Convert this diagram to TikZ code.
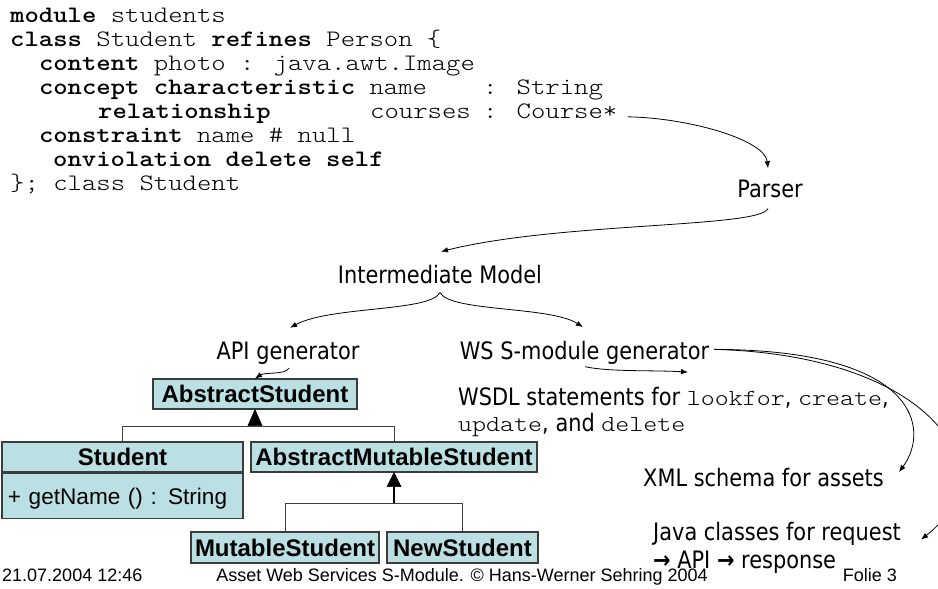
\documentclass[tikz,border=0pt]{standalone}
\usepackage{fontspec}
\setmainfont{Liberation Sans}
\newfontfamily\codefont{lmmonolt10-regular.otf}[BoldFont=lmmonolt10-bold.otf, FakeStretch=1.16]
\newfontfamily\arialfont{Liberation Sans}
\newfontfamily\labelfont{DejaVu Sans}[FakeStretch=0.87]
\usetikzlibrary{arrows.meta}
\definecolor{boxfill}{RGB}{187,224,228}
\definecolor{boxline}{RGB}{60,60,60}
\newcommand{\cw}[1]{{\codefont\fontsize{23}{24}\selectfont #1}}
\begin{document}
\begin{tikzpicture}[x=1pt,y=-1pt,
  code/.style={font=\codefont\fontsize{23.6}{24}\selectfont, inner sep=0pt, anchor=base west},
  lbl/.style={font=\labelfont\fontsize{24}{28}\selectfont, inner sep=0pt, anchor=base},
  cls/.style={draw=boxline, fill=boxfill, line width=1.1pt, font=\arialfont\bfseries\fontsize{24}{24}\selectfont, inner sep=0pt, minimum height=30pt, text height=17pt, text depth=0pt},
  foot/.style={font=\arialfont\fontsize{18}{18}\selectfont, inner sep=0pt, anchor=base},
  con/.style={-{Latex[length=7pt,width=5.5pt]}, line width=0.8pt},
  gen/.style={line width=1pt, draw=black!75},
  tri/.style={fill=black, draw=black, line width=0.5pt}]
\useasboundingbox (0,0) rectangle (938,589);
\fill[white] (0,0) rectangle (938,589);
% code
\node[code] (l1) at (10,22) {\textbf{module} students};
\node[code] (l2) at (10,46) {\textbf{class} Student \textbf{refines} Person \{};
\node[code] (l3) at (38.8,70) {\textbf{content} photo : java.awt.Image};
\node[code] (l4a) at (38.8,94) {\textbf{concept characteristic} name};
\node[code] (l4b) at (483,94) {: String};
\node[code] (l5a) at (98,118) {\textbf{relationship}};
\node[code] (l5b) at (370,118) {courses};
\node[code] (l5c) at (483,118) {: Course*};
\node[code] (l6) at (38.8,142) {\textbf{constraint} name \# null};
\node[code] (l7) at (53,166) {\textbf{onviolation delete self}};
\node[code] (l8) at (10,190) {\}; class Student};
% labels
\node[lbl] (parser) at (770,197) {Parser};
\node[lbl] (im) at (440,283) {Intermediate Model};
\node[lbl] (api) at (288,359) {API generator};
\node[lbl] (ws) at (584.5,359) {WS S-module generator};
\node[lbl, anchor=base west] (wsdl1) at (458,405) {WSDL statements for \cw{lookfor}, \cw{create},};
\node[lbl, anchor=base west] (wsdl2) at (458,431) {\cw{update}, and \cw{delete}};
\node[lbl, anchor=base west] (xml) at (643,486) {XML schema for assets};
\node[lbl, anchor=base west] (java1) at (653,540) {Java classes for request};
\node[lbl, anchor=base west] (java2) at (653,568) {{\bfseries →} API {\bfseries →} response};
% classes
\node[cls, minimum width=204pt] (as) at (255,394) {AbstractStudent};
\node[cls, minimum width=241pt] (stu) at (122.5,457) {Student};
\node[cls, anchor=north, font=\arialfont\fontsize{22.6}{24}\selectfont, minimum height=45pt, text width=229pt, inner xsep=6pt, align=left] (stuops) at (stu.south) {+ getName () : String};
\node[cls, minimum width=286pt] (ams) at (394,457) {AbstractMutableStudent};
\node[cls, minimum width=188pt, minimum height=31pt] (ms) at (285,547.5) {MutableStudent};
\node[cls, minimum width=151pt, minimum height=31pt] (ns) at (462.5,547.5) {NewStudent};
% footer
\node[foot, anchor=base west] (date) at (2,581) {21.07.2004 12:46};
\node[foot] (title) at (462,581) {Asset Web Services S-Module. © Hans-Werner Sehring 2004};
\node[foot] (folie) at (870,581) {Folie 3};
% generalisation
\draw[tri] (as.south) -- ++(-7,16) -- ++(14,0) -- cycle;
\coordinate (j1) at ([yshift=-17pt]as.south);
\draw[gen] (stu.north) |- (j1) -| (ams.north);
\draw[tri] (ams.south) -- ++(-7,14) -- ++(14,0) -- cycle;
\draw[line width=2pt] ([yshift=-14pt]ams.south) -- ([yshift=-31pt]ams.south);
\coordinate (j2) at ([yshift=-31pt]ams.south);
\draw[gen] (ms.north) |- (j2) -| (ns.north);
% connectors
\draw[con] ([shift={(10pt,-6pt)}]l5c.east) .. controls (690,118) and (765,140) .. ([shift={(-2pt,11pt)}]parser.north);
\draw[con] ([shift={(-2pt,-11pt)}]parser.south) .. controls (760,228) and (560,222) .. ([shift={(1pt,13pt)}]im.north);
\draw[con] ([yshift=-9pt]im.south) .. controls (430,312) and (330,306) .. ([shift={(2pt,13.5pt)}]api.north);
\draw[con] ([yshift=-9pt]im.south) .. controls (450,312) and (550,306) .. ([shift={(-1.5pt,13.5pt)}]ws.north);
\draw[con] ([shift={(1pt,-4pt)}]api.south) .. controls (285,375) and (265,372) .. (as.north);
\draw[con] ([shift={(0.5pt,-2.5pt)}]ws.south) .. controls (610,372) and (650,370) .. ([shift={(230pt,14.5pt)}]wsdl1.north west);
\draw[con] ([shift={(5pt,3pt)}]ws.east) .. controls (920,350) and (930,430) .. ([shift={(15pt,-4.5pt)}]xml.north east);
\draw[con] ([shift={(5pt,3pt)}]ws.east) .. controls (930,355) and (1010,470) .. ([shift={(20pt,-18pt)}]java1.north east);
\end{tikzpicture}
\end{document}
